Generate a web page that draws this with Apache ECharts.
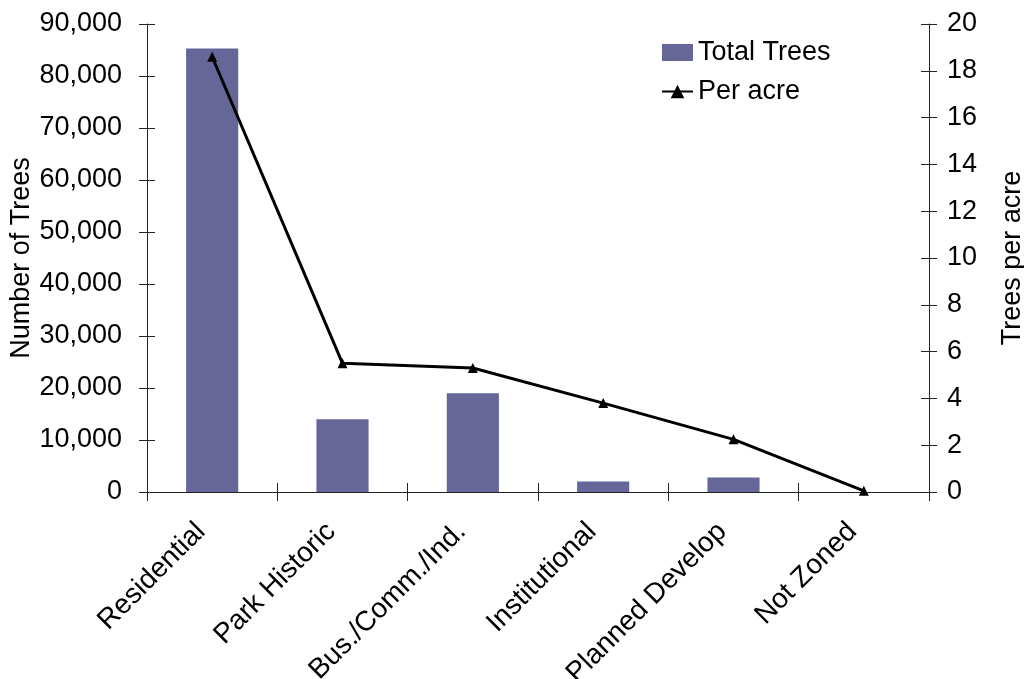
<!DOCTYPE html>
<html>
<head>
<meta charset="utf-8">
<script src="https://cdn.jsdelivr.net/npm/echarts@6/dist/echarts.min.js"></script>
<style>
  html, body { margin: 0; padding: 0; background: #fff; }
  #chart { width: 1024px; height: 679px; }
</style>
</head>
<body>
<div id="chart"></div>
<script>
// Trees by zoning category
const categories = ['Residential', 'Park Historic', 'Bus./Comm./Ind.', 'Institutional', 'Planned Develop', 'Not Zoned'];
const totalTrees = [85300, 14000, 19000, 2000, 2800, 0];
const perAcre = [18.6, 5.5, 5.3, 3.8, 2.25, 0.05];

const FONT = 'Liberation Sans, Arial, sans-serif';
const AXIS_COLOR = '#222';
const textStyle = { fontFamily: FONT, fontSize: 27, color: '#000' };
const categoryText = { fontFamily: FONT, fontSize: 28, color: '#000' };

const chart = echarts.init(document.getElementById('chart'), null, { renderer: 'canvas' });

// Each axis is paired with a twin that only draws inward ticks,
// so tick marks cross the axis line on both sides.
const valueAxis = (pos, max, interval, inside, extra) => Object.assign({
  type: 'value', position: pos, min: 0, max: max, interval: interval,
  splitLine: { show: false },
  axisLine: { show: !inside, lineStyle: { color: AXIS_COLOR, width: 1 } },
  axisTick: { show: true, inside: inside, length: 8, lineStyle: { color: AXIS_COLOR, width: 1 } }
}, extra);

chart.setOption({
  animation: false,
  grid: { left: 147, right: 95, top: 24, bottom: 187, containLabel: false, outerBoundsMode: 'none' },
  legend: {
    orient: 'vertical', left: 661, top: 39, padding: 0,
    itemWidth: 31, itemHeight: 17, itemGap: 12,
    textStyle: textStyle,
    data: [
      { name: 'Total Trees', icon: 'rect' },
      { name: 'Per acre' }
    ]
  },
  xAxis: [
    {
      type: 'category', data: categories, position: 'bottom',
      axisLine: { lineStyle: { color: AXIS_COLOR, width: 1 } },
      axisTick: { show: true, length: 9, lineStyle: { color: AXIS_COLOR } },
      axisLabel: Object.assign({ rotate: 45, margin: 24, interval: 0, padding: [0, 16, 0, 0] }, categoryText)
    },
    {
      type: 'category', data: categories, position: 'bottom',
      axisLine: { show: false },
      axisTick: { show: true, inside: true, length: 9, lineStyle: { color: AXIS_COLOR } },
      axisLabel: { show: false }
    }
  ],
  yAxis: [
    valueAxis('left', 90000, 10000, false, {
      name: 'Number of Trees', nameLocation: 'middle', nameGap: 112, nameRotate: 90,
      nameMoveOverlap: false,
      nameTextStyle: textStyle,
      axisLabel: Object.assign({ margin: 25, formatter: v => v.toLocaleString('en-US') }, textStyle)
    }),
    valueAxis('right', 20, 2, false, {
      name: 'Trees per acre', nameLocation: 'middle', nameGap: 70, nameRotate: 90,
      nameTextStyle: textStyle,
      axisLabel: Object.assign({ margin: 18 }, textStyle)
    }),
    valueAxis('left', 90000, 10000, true, { axisLabel: { show: false } }),
    valueAxis('right', 20, 2, true, { axisLabel: { show: false } })
  ],
  series: [
    {
      name: 'Total Trees', type: 'bar', data: totalTrees,
      xAxisIndex: 0, yAxisIndex: 0, barWidth: '40%',
      itemStyle: { color: '#666699' }
    },
    {
      name: 'Per acre', type: 'line', data: perAcre,
      xAxisIndex: 0, yAxisIndex: 1,
      symbol: 'triangle', symbolSize: 10,
      lineStyle: { color: '#000', width: 3 },
      itemStyle: { color: '#000' }
    }
  ]
});
</script>
</body>
</html>
